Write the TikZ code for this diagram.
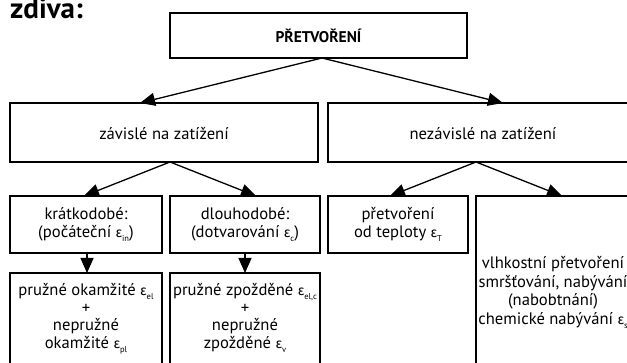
\documentclass[tikz,border=0pt]{standalone}
\usepackage{fontspec}
\setmainfont{PT Sans}
\newfontfamily\grkfont{Fira Sans}
\usetikzlibrary{arrows.meta}
\newcommand{\epsx}[1]{{\grkfont\fontsize{14}{14}\selectfont ε}\raisebox{-0.5ex}{\fontsize{8.5}{8.5}\selectfont #1}}
\tikzset{
  box/.style={draw, line width=1.3pt, anchor=north west, inner sep=0pt, outer sep=0pt},
  lbl/.style={align=center, inner sep=0pt, font=\fontsize{16.6}{17.8}\selectfont},
  arr/.style={line width=1.3pt, -{Triangle[length=15pt,width=13pt]}}
}
\begin{document}
\begin{tikzpicture}[x=1pt,y=-1pt]
\clip (0,0) rectangle (627,363);
\fill[white] (0,0) rectangle (627,363);
% title
\node[anchor=base west, inner sep=0pt, font=\fontsize{29}{29}\selectfont\bfseries] (title) at (10,19) {zdiva:};
% boxes
\node[box, minimum width=297, minimum height=45] (top) at (170,13) {};
\node[box, minimum width=308, minimum height=59] (zav) at (10,103) {};
\node[box, minimum width=310, minimum height=59] (nez) at (328,103) {};
\node[box, minimum width=152, minimum height=57] (kra) at (10,196) {};
\node[box, minimum width=150, minimum height=57] (dlo) at (170,196) {};
\node[box, minimum width=140, minimum height=57] (tep) at (328,196) {};
\node[box, minimum width=154, minimum height=193] (vlh) at (476,196) {};
\node[box, minimum width=152, minimum height=120] (pok) at (10,273) {};
\node[box, minimum width=150, minimum height=120] (pzp) at (170,273) {};
% texts
\node[lbl, font=\fontsize{15.5}{17}\selectfont\bfseries] (topt) at (top.center) {PŘETVOŘENÍ};
\node[lbl] (zavt) at ([yshift=-1]zav.center) {závislé na zatížení};
\node[lbl] (nezt) at ([yshift=-1]nez.center) {nezávislé na zatížení};
\node[lbl] (krat) at (kra.center) {krátkodobé:\\(počáteční \epsx{in})};
\node[lbl] (dlot) at (dlo.center) {dlouhodobé:\\(dotvarování \epsx{c})};
\node[lbl] (tept) at (tep.center) {přetvoření\\od teploty \epsx{T}};
\node[lbl, font=\fontsize{16.6}{18.5}\selectfont] (vlht) at (vlh.center) {vlhkostní přetvoření\\smršťování, nabývání\\(nabobtnání)\\chemické nabývání \epsx{s}};
\node[lbl, anchor=north] (pokt) at ([yshift=-10]pok.north) {pružné okamžité \epsx{el}\\+\\nepružné\\okamžité \epsx{pl}};
\node[lbl, anchor=north] (pzpt) at ([yshift=-10]pzp.north) {pružné zpožděné \epsx{el,c}\\+\\nepružné\\zpožděné \epsx{v}};
% arrows
\draw[arr] ([xshift=3.5]top.south) -- ([xshift=-24]zav.north);
\draw[arr] ([xshift=3.5]top.south) -- ([xshift=20]nez.north);
\draw[arr] ([xshift=6]zav.south) -- ([xshift=-2]kra.north);
\draw[arr] ([xshift=6]zav.south) -- ([xshift=11]dlo.north);
\draw[arr] ([xshift=-7]nez.south) -- ([xshift=-8]tep.north);
\draw[arr] ([xshift=-7]nez.south) -- ([xshift=9]vlh.north);
\draw[arr] ([xshift=1]kra.south) -- ([xshift=1]pok.north);
\draw[arr] (dlo.south) -- (pzp.north);
\end{tikzpicture}
\end{document}
